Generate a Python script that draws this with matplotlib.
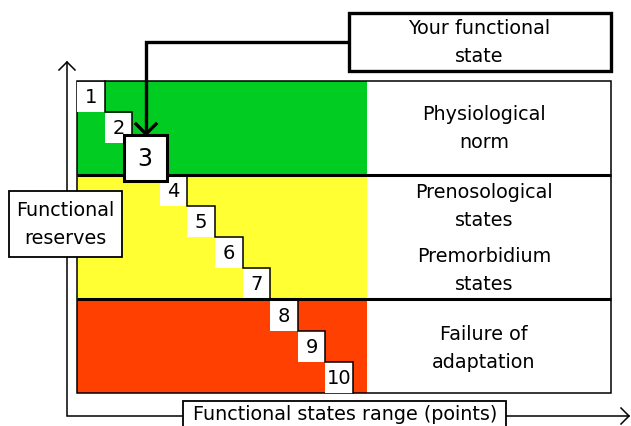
import matplotlib
matplotlib.use("Agg")
import matplotlib.pyplot as plt
from matplotlib.patches import Rectangle

# ---- data ----
levels = [1, 2, 3, 4, 5, 6, 7, 8, 9, 10]
current_level = 3
zone_sizes = [3, 4, 3]                     # number of levels per zone
zone_colors = ["#00CC22", "#FFFF33", "#FF4000"]
zone_labels = [["Physiological", "norm"],
               ["Prenosological", "states", "Premorbidium", "states"],
               ["Failure of", "adaptation"]]
title_label = ["Your functional", "state"]
y_label = ["Functional", "reserves"]
x_label = "Functional states range (points)"

# ---- layout (pixel space) ----
W, H = 631, 426
fig = plt.figure(figsize=(W / 100, H / 100), dpi=100)
ax = fig.add_axes([0, 0, 1, 1])
ax.set_xlim(0, W)
ax.set_ylim(H, 0)
ax.axis("off")

x0, y0 = 77, 81
sw, sh = 27.6, 31.2
color_right = 367
table_right = 611
bottom = y0 + sh * len(levels)
FS = 13.8
FONT = "DejaVu Sans"

# colored zones
start = 0
zone_bounds = []
for n, c in zip(zone_sizes, zone_colors):
    top = y0 + start * sh
    hgt = n * sh
    ax.add_patch(Rectangle((x0, top), color_right - x0, hgt, facecolor=c,
                           edgecolor="none", zorder=1))
    zone_bounds.append((top, top + hgt))
    start += n

# outer frame
ax.add_patch(Rectangle((x0, y0), table_right - x0, bottom - y0, facecolor="none",
                       edgecolor="black", lw=1.1, zorder=1.5))

# white step boxes
for lv in levels:
    bx = x0 + (lv - 1) * sw
    by = y0 + (lv - 1) * sh
    ax.add_patch(Rectangle((bx, by + 0.6), sw, sh - 0.6, facecolor="white",
                           edgecolor="none", zorder=2))
    if lv != current_level:
        ax.text(bx + sw / 2, by + sh / 2 + 1, str(lv), ha="center", va="center",
                fontsize=14, family=FONT, zorder=5)

# stair outline
xs, ys = [], []
for lv in levels:
    r = x0 + lv * sw
    t = y0 + (lv - 1) * sh
    b = y0 + lv * sh
    xs += [r, r]
    ys += [t, b]
    if lv < len(levels):
        xs.append(x0 + (lv + 1) * sw)
        ys.append(b)
ax.plot(xs, ys, color="black", lw=1.1, zorder=3, solid_joinstyle="miter")

# zone separators
for top, bot in zone_bounds[:-1]:
    ax.plot([x0, table_right], [bot, bot], color="black", lw=2.2, zorder=3,
            solid_capstyle="butt")

# zone labels
label_pos = {0: [114, 142], 1: [192, 220, 256, 284], 2: [334, 363]}
tx = 484
for zi, lines in enumerate(zone_labels):
    for ln, yy in zip(lines, label_pos[zi]):
        ax.text(tx, yy, ln, ha="center", va="center", fontsize=FS, family=FONT,
                zorder=5)

# highlighted current level
cx = x0 + (current_level - 0.5) * sw
cy = y0 + (current_level - 0.5) * sh
hw, hh = 43, 46
ax.add_patch(Rectangle((cx - hw / 2 - 1, cy - hh / 2 - 1), hw, hh, facecolor="white",
                       edgecolor="black", lw=2.2, zorder=6))
ax.text(cx - 1, cy, str(current_level), ha="center", va="center", fontsize=17,
        family=FONT, zorder=7)

# title box and pointer
ax.add_patch(Rectangle((349, 13), 262, 58, facecolor="white", edgecolor="black",
                       lw=2.4, zorder=6))
ax.text(479, 29, title_label[0], ha="center", va="center", fontsize=FS, family=FONT, zorder=7)
ax.text(479, 57, title_label[1], ha="center", va="center", fontsize=FS, family=FONT, zorder=7)
tip_y = cy - hh / 2 - 2
ax.plot([349, cx, cx], [42, 42, tip_y], color="black", lw=2.4, zorder=6,
        solid_joinstyle="miter", solid_capstyle="butt")
ax.plot([cx - 10, cx, cx + 10], [tip_y - 10, tip_y, tip_y - 10], color="black",
        lw=2.4, zorder=6)

# axes arrows
ax_x, ax_y = 67, 416
ax.plot([ax_x, ax_x, 629], [62, ax_y, ax_y], color="black", lw=1.1, zorder=1,
        solid_joinstyle="miter")
ax.plot([ax_x - 8, ax_x, ax_x + 8], [70, 62, 70], color="black", lw=1.1, zorder=1)
ax.plot([621, 629, 621], [408, ax_y, 424], color="black", lw=1.1, zorder=1)

# y label box
ax.add_patch(Rectangle((9, 191), 113, 66, facecolor="white", edgecolor="black",
                       lw=1.3, zorder=6))
ax.text(65, 210, y_label[0], ha="center", va="center", fontsize=FS, family=FONT, zorder=7)
ax.text(65, 238, y_label[1], ha="center", va="center", fontsize=FS, family=FONT, zorder=7)

# x label box
ax.add_patch(Rectangle((183, 401), 323, 40, facecolor="white", edgecolor="black",
                       lw=1.3, zorder=6, clip_on=True))
ax.text(345, 414, x_label, ha="center", va="center", fontsize=FS, family=FONT, zorder=7)

fig.savefig("out.png", dpi=100)
